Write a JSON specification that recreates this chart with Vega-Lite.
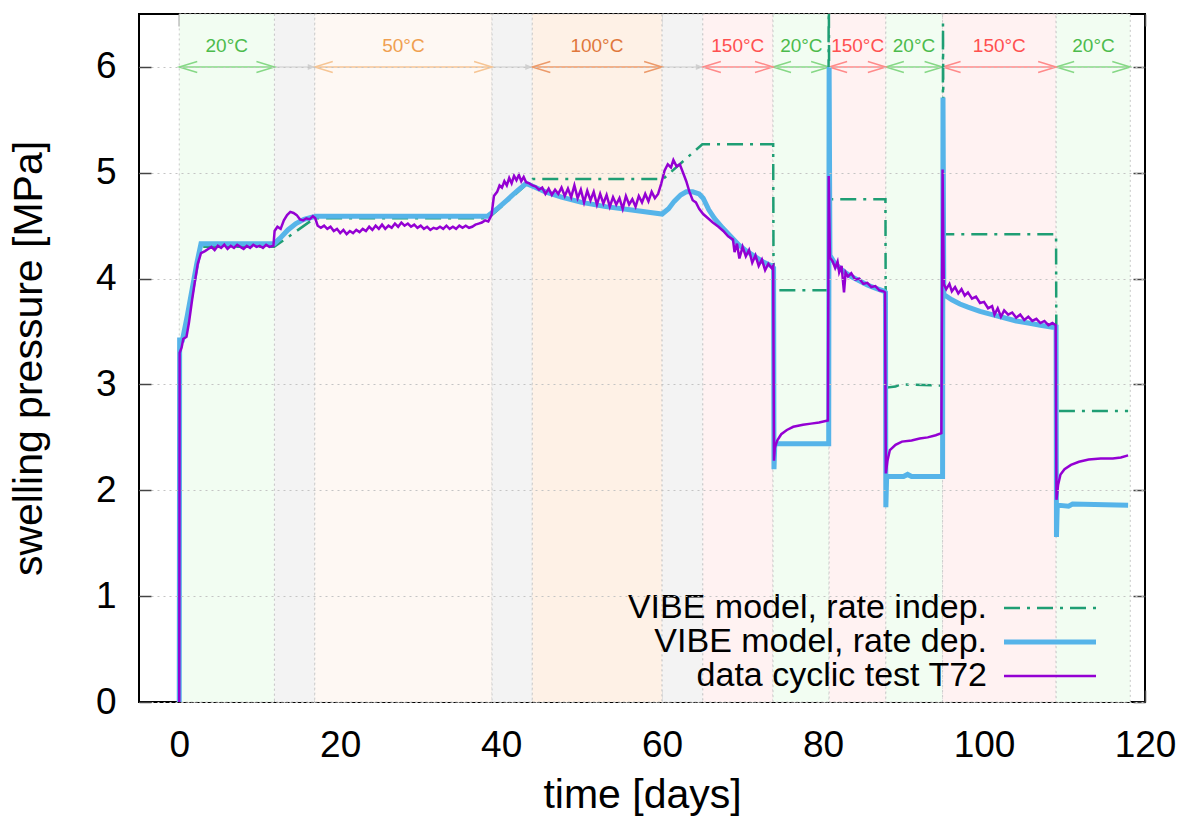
{
"$schema": "https://vega.github.io/schema/vega-lite/v6.json",
"width": 1006, "height": 688,
"autosize": {"type": "none"},
"padding": {"left": 139, "top": 14, "right": 42, "bottom": 124},
"background": "white",
"config": {
  "view": {"stroke": "black", "strokeWidth": 2},
  "font": "Liberation Sans",
  "axis": {"labelFont": "Liberation Sans", "titleFont": "Liberation Sans", "labelFontSize": 37, "titleFontSize": 41, "labelColor": "black", "titleColor": "black", "titleFontWeight": "normal", "tickColor": "#444444", "tickSize": -12, "tickWidth": 1.5, "domain": false, "grid": false, "labelFlush": false, "labelOverlap": false}
},
"datasets": {
  "bands": [
    {"a": 0, "b": 11.83, "k": "20", "label": "20°C", "mid": 5.9},
    {"a": 11.83, "b": 16.84, "k": "g"},
    {"a": 16.84, "b": 38.87, "k": "50", "label": "50°C", "mid": 27.85},
    {"a": 38.87, "b": 43.87, "k": "g"},
    {"a": 43.87, "b": 60.0, "k": "100", "label": "100°C", "mid": 51.9},
    {"a": 60.0, "b": 65.06, "k": "g"},
    {"a": 65.06, "b": 73.78, "k": "150", "label": "150°C", "mid": 69.4},
    {"a": 73.78, "b": 80.75, "k": "20", "label": "20°C", "mid": 77.3},
    {"a": 80.75, "b": 87.8, "k": "150", "label": "150°C", "mid": 84.3},
    {"a": 87.8, "b": 94.85, "k": "20", "label": "20°C", "mid": 91.3},
    {"a": 94.85, "b": 108.96, "k": "150", "label": "150°C", "mid": 101.9},
    {"a": 108.96, "b": 118.17, "k": "20", "label": "20°C", "mid": 113.6}
  ],
  "indep": [
    {"t": 0, "p": 0}, {"t": 0.05, "p": 3.4}, {"t": 0.4, "p": 3.4}, {"t": 2.7, "p": 4.3}, {"t": 11.8, "p": 4.3}, {"t": 16.8, "p": 4.57}, {"t": 38.4, "p": 4.57}, {"t": 43.9, "p": 4.94}, {"t": 60.1, "p": 4.94}, {"t": 65.0, "p": 5.27}, {"t": 73.8, "p": 5.27}, {"t": 73.85, "p": 3.89}, {"t": 80.65, "p": 3.89}, {"t": 80.7, "p": 7.0}, {"t": 80.8, "p": 4.75}, {"t": 87.75, "p": 4.75}, {"t": 87.8, "p": 2.97}, {"t": 89.0, "p": 2.98}, {"t": 89.6, "p": 3.0}, {"t": 94.85, "p": 2.99}, {"t": 94.9, "p": 6.41}, {"t": 95.0, "p": 4.42}, {"t": 108.95, "p": 4.42}, {"t": 109.0, "p": 2.75}, {"t": 117.9, "p": 2.75}
  ],
  "dep": [
    {"t": 0, "p": 0}, {"t": 0.05, "p": 3.42}, {"t": 0.4, "p": 3.42}, {"t": 1.0, "p": 3.65}, {"t": 1.6, "p": 3.9}, {"t": 2.2, "p": 4.15}, {"t": 2.7, "p": 4.33}, {"t": 11.8, "p": 4.33}, {"t": 12.5, "p": 4.38}, {"t": 13.5, "p": 4.46}, {"t": 14.5, "p": 4.52}, {"t": 15.5, "p": 4.56}, {"t": 16.5, "p": 4.58}, {"t": 17.0, "p": 4.59}, {"t": 38.3, "p": 4.59}, {"t": 39.5, "p": 4.66}, {"t": 40.7, "p": 4.74}, {"t": 42.0, "p": 4.83}, {"t": 43.1, "p": 4.9}, {"t": 44.0, "p": 4.87}, {"t": 45.5, "p": 4.82}, {"t": 47.5, "p": 4.77}, {"t": 50.0, "p": 4.72}, {"t": 53.0, "p": 4.68}, {"t": 56.0, "p": 4.65}, {"t": 59.0, "p": 4.62}, {"t": 60.0, "p": 4.61}, {"t": 60.8, "p": 4.66}, {"t": 61.5, "p": 4.73}, {"t": 62.3, "p": 4.79}, {"t": 63.0, "p": 4.82}, {"t": 63.8, "p": 4.82}, {"t": 64.6, "p": 4.8}, {"t": 65.1, "p": 4.76}, {"t": 65.8, "p": 4.65}, {"t": 66.5, "p": 4.57}, {"t": 67.5, "p": 4.48}, {"t": 68.5, "p": 4.4}, {"t": 69.5, "p": 4.32}, {"t": 70.5, "p": 4.26}, {"t": 71.5, "p": 4.21}, {"t": 72.5, "p": 4.16}, {"t": 73.6, "p": 4.12}, {"t": 73.85, "p": 4.1}, {"t": 73.9, "p": 2.2}, {"t": 74.0, "p": 2.44}, {"t": 80.7, "p": 2.44}, {"t": 80.75, "p": 6.0}, {"t": 80.85, "p": 4.22}, {"t": 81.5, "p": 4.14}, {"t": 82.5, "p": 4.07}, {"t": 83.5, "p": 4.02}, {"t": 84.5, "p": 3.98}, {"t": 85.5, "p": 3.94}, {"t": 86.5, "p": 3.91}, {"t": 87.6, "p": 3.88}, {"t": 87.75, "p": 3.87}, {"t": 87.8, "p": 1.84}, {"t": 87.9, "p": 2.13}, {"t": 90.0, "p": 2.13}, {"t": 90.5, "p": 2.15}, {"t": 91.0, "p": 2.13}, {"t": 94.85, "p": 2.13}, {"t": 94.9, "p": 5.71}, {"t": 95.0, "p": 3.85}, {"t": 96.0, "p": 3.8}, {"t": 97.0, "p": 3.76}, {"t": 98.0, "p": 3.73}, {"t": 99.5, "p": 3.69}, {"t": 101.0, "p": 3.66}, {"t": 102.5, "p": 3.63}, {"t": 104.0, "p": 3.6}, {"t": 105.5, "p": 3.58}, {"t": 107.0, "p": 3.56}, {"t": 108.5, "p": 3.54}, {"t": 108.95, "p": 3.54}, {"t": 109.0, "p": 1.56}, {"t": 109.1, "p": 1.86}, {"t": 110.5, "p": 1.85}, {"t": 111.0, "p": 1.87}, {"t": 117.9, "p": 1.86}
  ],
  "data": [
    {"t": 0, "p": 0}, {"t": 0.05, "p": 3.3}, {"t": 0.3, "p": 3.35}, {"t": 0.5, "p": 3.43}, {"t": 0.9, "p": 3.45}, {"t": 1.2, "p": 3.58}, {"t": 1.6, "p": 3.8}, {"t": 1.9, "p": 3.95}, {"t": 2.3, "p": 4.14}, {"t": 2.7, "p": 4.24}, {"t": 3.2, "p": 4.26}, {"t": 3.6, "p": 4.28}, {"t": 4.0, "p": 4.3}, {"t": 4.4, "p": 4.27}, {"t": 4.8, "p": 4.31}, {"t": 5.2, "p": 4.29}, {"t": 5.6, "p": 4.32}, {"t": 6.0, "p": 4.28}, {"t": 6.4, "p": 4.31}, {"t": 6.8, "p": 4.29}, {"t": 7.2, "p": 4.32}, {"t": 7.6, "p": 4.3}, {"t": 8.0, "p": 4.28}, {"t": 8.4, "p": 4.31}, {"t": 8.8, "p": 4.29}, {"t": 9.2, "p": 4.32}, {"t": 9.6, "p": 4.3}, {"t": 10.0, "p": 4.31}, {"t": 10.4, "p": 4.29}, {"t": 10.8, "p": 4.32}, {"t": 11.2, "p": 4.3}, {"t": 11.7, "p": 4.31},
    {"t": 11.85, "p": 4.45}, {"t": 12.2, "p": 4.49}, {"t": 12.6, "p": 4.47}, {"t": 13.0, "p": 4.55}, {"t": 13.4, "p": 4.6}, {"t": 13.8, "p": 4.63}, {"t": 14.2, "p": 4.62}, {"t": 14.6, "p": 4.6}, {"t": 15.0, "p": 4.56}, {"t": 15.4, "p": 4.55}, {"t": 15.8, "p": 4.57}, {"t": 16.2, "p": 4.56}, {"t": 16.6, "p": 4.59}, {"t": 16.9, "p": 4.57},
    {"t": 17.2, "p": 4.5}, {"t": 17.6, "p": 4.48}, {"t": 18.0, "p": 4.5}, {"t": 18.4, "p": 4.47}, {"t": 18.8, "p": 4.49}, {"t": 19.2, "p": 4.45}, {"t": 19.6, "p": 4.47}, {"t": 20.0, "p": 4.43}, {"t": 20.4, "p": 4.46}, {"t": 20.8, "p": 4.42}, {"t": 21.2, "p": 4.45}, {"t": 21.6, "p": 4.43}, {"t": 22.0, "p": 4.46}, {"t": 22.4, "p": 4.44}, {"t": 22.8, "p": 4.47}, {"t": 23.2, "p": 4.45}, {"t": 23.6, "p": 4.49}, {"t": 24.0, "p": 4.46}, {"t": 24.4, "p": 4.5}, {"t": 24.8, "p": 4.47}, {"t": 25.2, "p": 4.51}, {"t": 25.6, "p": 4.47}, {"t": 26.0, "p": 4.5}, {"t": 26.4, "p": 4.48}, {"t": 26.8, "p": 4.52}, {"t": 27.2, "p": 4.49}, {"t": 27.6, "p": 4.53}, {"t": 28.0, "p": 4.5}, {"t": 28.4, "p": 4.52}, {"t": 28.8, "p": 4.49}, {"t": 29.2, "p": 4.51}, {"t": 29.6, "p": 4.48}, {"t": 30.0, "p": 4.5}, {"t": 30.4, "p": 4.47}, {"t": 30.8, "p": 4.49}, {"t": 31.2, "p": 4.46}, {"t": 31.6, "p": 4.48}, {"t": 32.0, "p": 4.47}, {"t": 32.4, "p": 4.49}, {"t": 32.8, "p": 4.47}, {"t": 33.2, "p": 4.5}, {"t": 33.6, "p": 4.47}, {"t": 34.0, "p": 4.49}, {"t": 34.4, "p": 4.47}, {"t": 34.8, "p": 4.5}, {"t": 35.2, "p": 4.48}, {"t": 35.6, "p": 4.5}, {"t": 36.0, "p": 4.48}, {"t": 36.4, "p": 4.49}, {"t": 36.8, "p": 4.51}, {"t": 37.2, "p": 4.52}, {"t": 37.6, "p": 4.53}, {"t": 38.0, "p": 4.55}, {"t": 38.4, "p": 4.54}, {"t": 38.8, "p": 4.6},
    {"t": 39.1, "p": 4.78}, {"t": 39.5, "p": 4.82}, {"t": 39.8, "p": 4.88}, {"t": 40.1, "p": 4.86}, {"t": 40.4, "p": 4.92}, {"t": 40.7, "p": 4.88}, {"t": 41.0, "p": 4.95}, {"t": 41.3, "p": 4.9}, {"t": 41.6, "p": 4.97}, {"t": 41.9, "p": 4.93}, {"t": 42.2, "p": 4.98}, {"t": 42.5, "p": 4.92}, {"t": 42.8, "p": 4.96}, {"t": 43.1, "p": 4.91}, {"t": 43.5, "p": 4.9}, {"t": 43.9, "p": 4.88}, {"t": 44.3, "p": 4.87}, {"t": 44.7, "p": 4.84}, {"t": 45.1, "p": 4.86}, {"t": 45.5, "p": 4.8}, {"t": 45.9, "p": 4.85}, {"t": 46.3, "p": 4.79}, {"t": 46.7, "p": 4.84}, {"t": 47.1, "p": 4.8}, {"t": 47.5, "p": 4.86}, {"t": 47.9, "p": 4.78}, {"t": 48.3, "p": 4.85}, {"t": 48.7, "p": 4.77}, {"t": 49.1, "p": 4.88}, {"t": 49.5, "p": 4.76}, {"t": 49.9, "p": 4.84}, {"t": 50.3, "p": 4.72}, {"t": 50.7, "p": 4.83}, {"t": 51.1, "p": 4.74}, {"t": 51.5, "p": 4.82}, {"t": 51.9, "p": 4.7}, {"t": 52.3, "p": 4.8}, {"t": 52.7, "p": 4.71}, {"t": 53.1, "p": 4.79}, {"t": 53.5, "p": 4.68}, {"t": 53.9, "p": 4.77}, {"t": 54.3, "p": 4.7}, {"t": 54.7, "p": 4.76}, {"t": 55.1, "p": 4.66}, {"t": 55.5, "p": 4.78}, {"t": 55.9, "p": 4.7}, {"t": 56.3, "p": 4.75}, {"t": 56.7, "p": 4.68}, {"t": 57.1, "p": 4.78}, {"t": 57.5, "p": 4.72}, {"t": 57.9, "p": 4.8}, {"t": 58.3, "p": 4.73}, {"t": 58.7, "p": 4.82}, {"t": 59.1, "p": 4.76}, {"t": 59.5, "p": 4.8}, {"t": 59.9, "p": 4.9}, {"t": 60.3, "p": 5.02}, {"t": 60.7, "p": 5.08}, {"t": 61.1, "p": 5.05}, {"t": 61.4, "p": 5.12}, {"t": 61.8, "p": 5.06}, {"t": 62.2, "p": 5.08}, {"t": 62.6, "p": 5.0}, {"t": 63.0, "p": 4.92}, {"t": 63.4, "p": 4.82}, {"t": 63.8, "p": 4.74}, {"t": 64.2, "p": 4.72}, {"t": 64.6, "p": 4.66}, {"t": 65.1, "p": 4.61}, {"t": 65.7, "p": 4.57}, {"t": 66.3, "p": 4.53}, {"t": 67.0, "p": 4.49}, {"t": 67.6, "p": 4.45}, {"t": 68.2, "p": 4.4}, {"t": 68.8, "p": 4.37}, {"t": 69.0, "p": 4.25}, {"t": 69.3, "p": 4.33}, {"t": 69.6, "p": 4.19}, {"t": 70.0, "p": 4.3}, {"t": 70.4, "p": 4.21}, {"t": 70.8, "p": 4.27}, {"t": 71.2, "p": 4.15}, {"t": 71.6, "p": 4.22}, {"t": 72.0, "p": 4.12}, {"t": 72.4, "p": 4.18}, {"t": 72.8, "p": 4.08}, {"t": 73.2, "p": 4.14}, {"t": 73.6, "p": 4.1}, {"t": 73.8, "p": 4.12},
    {"t": 73.9, "p": 2.28}, {"t": 74.0, "p": 2.4}, {"t": 74.3, "p": 2.47}, {"t": 74.8, "p": 2.53}, {"t": 75.5, "p": 2.57}, {"t": 76.3, "p": 2.6}, {"t": 77.5, "p": 2.62}, {"t": 78.5, "p": 2.63}, {"t": 79.5, "p": 2.64}, {"t": 80.6, "p": 2.66},
    {"t": 80.7, "p": 4.97}, {"t": 80.85, "p": 4.2}, {"t": 81.2, "p": 4.16}, {"t": 81.5, "p": 4.1}, {"t": 81.8, "p": 4.16}, {"t": 82.0, "p": 4.06}, {"t": 82.3, "p": 4.12}, {"t": 82.6, "p": 3.87}, {"t": 82.8, "p": 4.06}, {"t": 83.1, "p": 4.02}, {"t": 83.5, "p": 4.05}, {"t": 84.0, "p": 3.99}, {"t": 84.5, "p": 4.0}, {"t": 85.0, "p": 3.95}, {"t": 85.5, "p": 3.96}, {"t": 86.0, "p": 3.92}, {"t": 86.5, "p": 3.93}, {"t": 87.0, "p": 3.89}, {"t": 87.5, "p": 3.88}, {"t": 87.7, "p": 3.87},
    {"t": 87.8, "p": 2.16}, {"t": 88.0, "p": 2.28}, {"t": 88.3, "p": 2.38}, {"t": 89.0, "p": 2.43}, {"t": 89.8, "p": 2.46}, {"t": 91.0, "p": 2.47}, {"t": 92.0, "p": 2.49}, {"t": 93.0, "p": 2.5}, {"t": 94.0, "p": 2.52}, {"t": 94.7, "p": 2.54},
    {"t": 94.85, "p": 5.03}, {"t": 95.0, "p": 3.95}, {"t": 95.3, "p": 3.9}, {"t": 95.7, "p": 3.95}, {"t": 96.0, "p": 3.88}, {"t": 96.4, "p": 3.92}, {"t": 96.8, "p": 3.86}, {"t": 97.2, "p": 3.9}, {"t": 97.6, "p": 3.84}, {"t": 98.0, "p": 3.87}, {"t": 98.5, "p": 3.81}, {"t": 99.0, "p": 3.83}, {"t": 99.5, "p": 3.77}, {"t": 100.0, "p": 3.78}, {"t": 100.5, "p": 3.72}, {"t": 101.0, "p": 3.74}, {"t": 101.3, "p": 3.66}, {"t": 101.7, "p": 3.72}, {"t": 102.1, "p": 3.64}, {"t": 102.5, "p": 3.7}, {"t": 103.0, "p": 3.66}, {"t": 103.5, "p": 3.68}, {"t": 104.0, "p": 3.63}, {"t": 104.5, "p": 3.66}, {"t": 105.0, "p": 3.61}, {"t": 105.5, "p": 3.64}, {"t": 106.0, "p": 3.6}, {"t": 106.5, "p": 3.62}, {"t": 107.0, "p": 3.58}, {"t": 107.5, "p": 3.6}, {"t": 108.0, "p": 3.56}, {"t": 108.5, "p": 3.58}, {"t": 108.9, "p": 3.56},
    {"t": 109.0, "p": 1.91}, {"t": 109.2, "p": 2.05}, {"t": 109.5, "p": 2.15}, {"t": 110.0, "p": 2.2}, {"t": 110.8, "p": 2.24}, {"t": 111.8, "p": 2.27}, {"t": 113.0, "p": 2.29}, {"t": 114.5, "p": 2.3}, {"t": 116.0, "p": 2.3}, {"t": 117.0, "p": 2.31}, {"t": 117.9, "p": 2.33}
  ]
},
"resolve": {"axis": {"x": "independent", "y": "independent"}, "scale": {"fill": "independent"}},
"layer": [
  {
    "data": {"name": "bands"},
    "mark": {"type": "rect", "stroke": "#c8c8c8", "strokeDash": [2, 3], "strokeWidth": 1},
    "encoding": {
      "x": {"field": "a", "type": "quantitative", "scale": {"domain": [-5, 120], "nice": false, "zero": false},
        "axis": {"orient": "bottom", "values": [0, 20, 40, 60, 80, 100, 120], "labelPadding": 37, "title": "time [days]", "titleY": 93, "titleBaseline": "middle"}},
      "x2": {"field": "b"},
      "fill": {"field": "k", "type": "nominal", "legend": null,
        "scale": {"domain": ["20", "50", "100", "150", "g"], "range": ["#f2fdf2", "#fef8f3", "#fef1e6", "#fff2f2", "#f3f3f3"]}}
    }
  },
  {
    "data": {"name": "bands"},
    "mark": {"type": "rule", "strokeWidth": 1.5},
    "encoding": {
      "x": {"field": "a", "type": "quantitative", "scale": {"domain": [-5, 120], "nice": false, "zero": false}, "axis": null},
      "x2": {"field": "b"},
      "y": {"datum": 6, "type": "quantitative", "scale": {"domain": [0, 6.5], "nice": false, "zero": true},
        "axis": {"orient": "left", "values": [0, 1, 2, 3, 4, 5, 6], "labelPadding": 35, "grid": true, "gridDash": [2, 4], "gridColor": "#c4c4c4", "gridWidth": 1, "zindex": 1,
          "title": "swelling pressure [MPa]", "titleX": -110, "titleY": 344, "titleBaseline": "middle", "titleAngle": -90}},
      "stroke": {"field": "k", "type": "nominal", "legend": null,
        "scale": {"domain": ["20", "50", "100", "150", "g"], "range": ["#86d886", "#f6c594", "#ec9a6a", "#ff8a8a", "#d8d8d8"]}}
    }
  },
  {
    "data": {"name": "bands"},
    "transform": [{"filter": "datum.k !== 'g'"}],
    "mark": {"type": "point", "shape": "M1.8,-0.55L0,0L1.8,0.55", "filled": false, "size": 400, "strokeWidth": 1.5, "opacity": 1},
    "encoding": {
      "x": {"field": "a", "type": "quantitative", "scale": {"domain": [-5, 120], "nice": false, "zero": false},
        "axis": {"orient": "top", "values": [0, 20, 40, 60, 80, 100, 120], "labels": false, "title": null}},
      "y": {"datum": 6, "type": "quantitative", "scale": {"domain": [0, 6.5], "nice": false, "zero": true},
        "axis": {"orient": "right", "values": [0, 1, 2, 3, 4, 5, 6], "labels": false, "title": null}},
      "stroke": {"field": "k", "type": "nominal", "legend": null,
        "scale": {"domain": ["20", "50", "100", "150", "g"], "range": ["#86d886", "#f6c594", "#ec9a6a", "#ff8a8a", "#d8d8d8"]}}
    }
  },
  {
    "data": {"name": "bands"},
    "transform": [{"filter": "datum.k !== 'g'"}],
    "mark": {"type": "point", "shape": "M-1.8,-0.55L0,0L-1.8,0.55", "filled": false, "size": 400, "strokeWidth": 1.5, "opacity": 1},
    "encoding": {
      "x": {"field": "b", "type": "quantitative", "scale": {"domain": [-5, 120], "nice": false, "zero": false}, "axis": null},
      "y": {"datum": 6, "type": "quantitative", "scale": {"domain": [0, 6.5], "nice": false, "zero": true}, "axis": null},
      "stroke": {"field": "k", "type": "nominal", "legend": null,
        "scale": {"domain": ["20", "50", "100", "150", "g"], "range": ["#86d886", "#f6c594", "#ec9a6a", "#ff8a8a", "#d8d8d8"]}}
    }
  },
  {
    "data": {"name": "bands"},
    "transform": [{"filter": "datum.k === 'g'"}],
    "mark": {"type": "point", "shape": "M-1.4,-0.6L0,0L-1.4,0.6Z", "filled": true, "fill": "#d0d0d0", "size": 100, "opacity": 1},
    "encoding": {
      "x": {"field": "b", "type": "quantitative", "scale": {"domain": [-5, 120], "nice": false, "zero": false}, "axis": null},
      "y": {"datum": 6, "type": "quantitative", "scale": {"domain": [0, 6.5], "nice": false, "zero": true}, "axis": null}
    }
  },
  {
    "data": {"name": "bands"},
    "transform": [{"filter": "datum.k !== 'g'"}],
    "mark": {"type": "text", "fontSize": 19, "font": "Liberation Sans", "baseline": "middle", "align": "center"},
    "encoding": {
      "x": {"field": "mid", "type": "quantitative", "scale": {"domain": [-5, 120], "nice": false, "zero": false}, "axis": null},
      "y": {"datum": 6.2, "type": "quantitative", "scale": {"domain": [0, 6.5], "nice": false, "zero": true}, "axis": null},
      "text": {"field": "label"},
      "fill": {"field": "k", "type": "nominal", "legend": null,
        "scale": {"domain": ["20", "50", "100", "150"], "range": ["#4cbb4c", "#f0a050", "#e0783c", "#ff5050"]}}
    }
  },
  {
    "data": {"name": "indep"},
    "mark": {"type": "line", "clip": true, "strokeWidth": 2.5, "strokeDash": [16, 7, 3, 7]},
    "encoding": {
      "x": {"field": "t", "type": "quantitative", "scale": {"domain": [-5, 120], "nice": false, "zero": false}, "axis": null},
      "y": {"field": "p", "type": "quantitative", "scale": {"domain": [0, 6.5], "nice": false, "zero": true}, "axis": null},
      "order": {"field": "t"},
      "color": {"datum": "VIBE model, rate indep.", "type": "nominal",
        "scale": {"domain": ["VIBE model, rate indep.", "VIBE model, rate dep.", "data cyclic test T72"], "range": ["#1f9e74", "#56b4e9", "#9400d3"]},
        "legend": {"title": null, "orient": "none", "legendX": 894, "legendY": 577, "direction": "vertical", "padding": 0,
          "labelFont": "Liberation Sans", "labelFontSize": 34, "labelColor": "black", "labelAlign": "right", "labelOffset": -80, "labelLimit": 800,
          "symbolType": "stroke", "symbolSize": 8464, "symbolOpacity": 1, "rowPadding": -51,
          "encode": {"symbols": {"update": {
            "strokeDash": {"signal": "datum.label === 'VIBE model, rate indep.' ? [16, 7, 3, 7] : [1, 0]"},
            "strokeWidth": {"signal": "datum.label === 'VIBE model, rate dep.' ? 5 : 2.5"}}}}}
      }
    }
  },
  {
    "data": {"name": "dep"},
    "mark": {"type": "line", "clip": true, "strokeWidth": 5},
    "encoding": {
      "x": {"field": "t", "type": "quantitative", "scale": {"domain": [-5, 120], "nice": false, "zero": false}, "axis": null},
      "y": {"field": "p", "type": "quantitative", "scale": {"domain": [0, 6.5], "nice": false, "zero": true}, "axis": null},
      "order": {"field": "t"},
      "color": {"datum": "VIBE model, rate dep.", "type": "nominal"}
    }
  },
  {
    "data": {"name": "data"},
    "mark": {"type": "line", "clip": true, "strokeWidth": 2.5},
    "encoding": {
      "x": {"field": "t", "type": "quantitative", "scale": {"domain": [-5, 120], "nice": false, "zero": false}, "axis": null},
      "y": {"field": "p", "type": "quantitative", "scale": {"domain": [0, 6.5], "nice": false, "zero": true}, "axis": null},
      "order": {"field": "t"},
      "color": {"datum": "data cyclic test T72", "type": "nominal"}
    }
  }
]
}
